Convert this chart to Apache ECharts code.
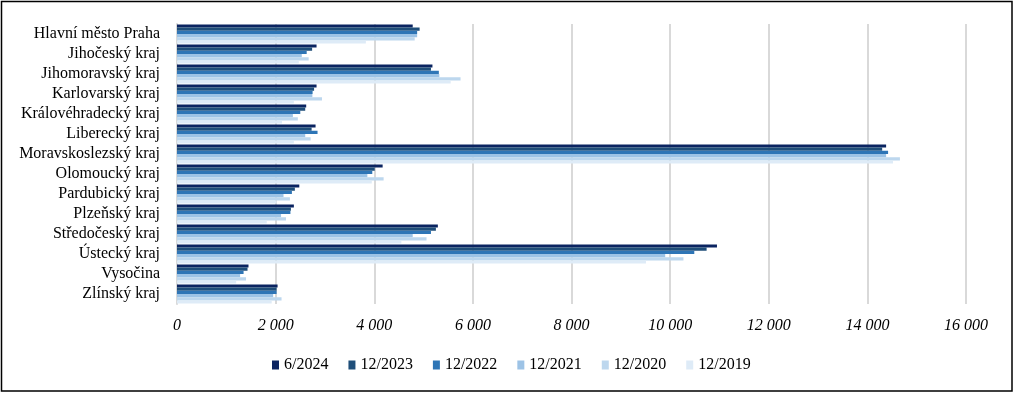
<!DOCTYPE html>
<html>
<head>
<meta charset="utf-8">
<script src="https://cdn.jsdelivr.net/npm/echarts@6/dist/echarts.min.js"></script>
<style>
html, body { margin: 0; padding: 0; background: #fff; }
#container { width: 1016px; height: 395px; }
</style>
</head>
<body>
<div id="container"></div>
<script>
// kraje (shora dolů)
var regions = ['Hlavní město Praha', 'Jihočeský kraj', 'Jihomoravský kraj', 'Karlovarský kraj',
    'Královéhradecký kraj', 'Liberecký kraj', 'Moravskoslezský kraj', 'Olomoucký kraj',
    'Pardubický kraj', 'Plzeňský kraj', 'Středočeský kraj', 'Ústecký kraj', 'Vysočina', 'Zlínský kraj'];

var periods = ['6/2024', '12/2023', '12/2022', '12/2021', '12/2020', '12/2019'];
var colors = ['#0b2461', '#1f4e79', '#2e75b6', '#9dc3e6', '#bdd7ee', '#deebf7'];

var v2024_06 = [4780, 2830, 5180, 2830, 2620, 2810, 14380, 4170, 2480, 2370, 5290, 10950, 1450, 2040];
var v2023_12 = [4920, 2740, 5150, 2780, 2600, 2730, 14300, 4010, 2390, 2310, 5250, 10740, 1430, 2020];
var v2022_12 = [4870, 2630, 5310, 2750, 2500, 2850, 14420, 3960, 2330, 2300, 5150, 10490, 1350, 2020];
var v2021_12 = [4870, 2530, 5320, 2745, 2350, 2600, 14380, 3860, 2160, 2110, 4780, 9900, 1280, 1950];
var v2020_12 = [4820, 2670, 5750, 2940, 2450, 2710, 14660, 4190, 2290, 2210, 5060, 10270, 1400, 2120];
var v2019_12 = [3830, 2470, 5550, 2370, 2130, 2370, 14520, 3950, 2020, 1820, 4550, 9510, 1200, 1920];

var xTicks = [0, 2000, 4000, 6000, 8000, 10000, 12000, 14000, 16000];

var allValues = [v2024_06, v2023_12, v2022_12, v2021_12, v2020_12, v2019_12];

function fmt(n) {
    return String(n).replace(/\B(?=(\d{3})+(?!\d))/g, ' ');
}

var series = [];
for (var i = 0; i < periods.length; i++) {
    series.push({
        name: periods[i],
        type: 'bar',
        data: allValues[i],
        barGap: '0%',
        barCategoryGap: '4%',
        itemStyle: { color: colors[i] },
        emphasis: { disabled: true }
    });
}

var myChart = echarts.init(document.getElementById('container'));
var option = {
    animation: false,
    textStyle: { fontFamily: 'Liberation Serif' },
    graphic: [{
        type: 'rect',
        shape: { x: 1.5, y: 1.5, width: 1010.5, height: 389.5 },
        style: { fill: 'none', stroke: '#000', lineWidth: 1.5 },
        silent: true
    }],
    legend: {
        data: periods,
        left: 267,
        top: 352,
        itemWidth: 7,
        itemHeight: 9,
        itemGap: 20,
        icon: 'rect',
        textStyle: { fontFamily: 'Liberation Serif', fontSize: 16, color: '#000' }
    },
    grid: { left: 177, top: 24, height: 280, right: 50 },
    xAxis: {
        type: 'value',
        min: 0,
        max: 16000,
        interval: 2000,
        axisLine: { show: false },
        axisTick: { show: false },
        splitLine: { lineStyle: { color: '#d9d9d9', width: 2 } },
        axisLabel: {
            margin: 14,
            fontFamily: 'Liberation Serif',
            fontStyle: 'italic',
            fontSize: 16,
            color: '#000',
            formatter: function (v) { return xTicks.indexOf(v) >= 0 ? fmt(v) : ''; }
        }
    },
    yAxis: {
        type: 'category',
        data: regions,
        inverse: true,
        axisLine: { show: true, lineStyle: { color: '#d9d9d9', width: 2 } },
        axisTick: { show: false },
        axisLabel: {
            interval: 0,
            margin: 17,
            fontFamily: 'Liberation Serif',
            fontSize: 16,
            color: '#000'
        }
    },
    series: series
};
myChart.setOption(option);
</script>
</body>
</html>
